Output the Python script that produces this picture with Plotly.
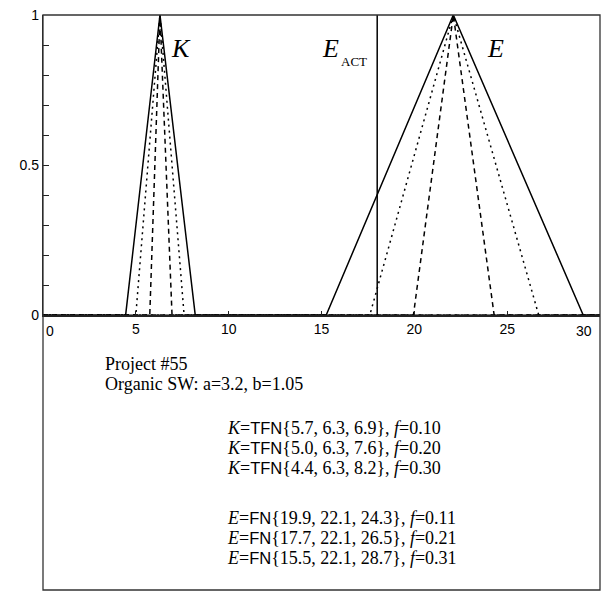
import plotly.graph_objects as go

# ---- data ----
x_axis_range = [0, 30]
k_left = [5.75, 5.0, 4.45]
k_peak = [6.3, 6.3, 6.3]
k_right = [6.95, 7.6, 8.2]
e_left = [19.95, 17.6, 15.25]
e_peak = [22.1, 22.1, 22.1]
e_right = [24.3, 26.7, 29.1]
e_act = 18.0
dash_styles = ["5px,4px", "2px,4px", "solid"]

x_tick_vals = [5, 10, 15, 20, 25]
x_tick_text = ["5", "10", "15", "20", "25"]
y_tick_vals = [0, 0.5, 1]
y_tick_text = ["0", "0.5", "1"]

k_text = [
    ("5.7, 6.3, 6.9", "0.10"),
    ("5.0, 6.3, 7.6", "0.20"),
    ("4.4, 6.3, 8.2", "0.30"),
]
e_text = [
    ("19.9, 22.1, 24.3", "0.11"),
    ("17.7, 22.1, 26.5", "0.21"),
    ("15.5, 22.1, 28.7", "0.31"),
]

SERIF = "Liberation Serif, Times New Roman, serif"
SANS = "Liberation Sans, Arial, sans-serif"

fig = go.Figure()


def tri(a, m, b):
    return [x_axis_range[0], a, m, b, x_axis_range[1]], [0, 0, 1, 0, 0]


for i in range(3):
    xs, ys = tri(k_left[i], k_peak[i], k_right[i])
    fig.add_trace(go.Scatter(x=xs, y=ys, mode="lines",
                             line=dict(color="black", width=1.5, dash=dash_styles[i]),
                             showlegend=False, hoverinfo="skip"))
    xs, ys = tri(e_left[i], e_peak[i], e_right[i])
    fig.add_trace(go.Scatter(x=xs, y=ys, mode="lines",
                             line=dict(color="black", width=1.5, dash=dash_styles[i]),
                             showlegend=False, hoverinfo="skip"))

fig.add_trace(go.Scatter(x=[e_act, e_act], y=[0, 1], mode="lines",
                         line=dict(color="black", width=1.5),
                         showlegend=False, hoverinfo="skip"))

W, H = 615, 605
ML, MR, MT, MB = 43, 15, 10, 7
PW, PH = W - ML - MR, H - MT - MB
axis_px = 317
y_dom_bottom = (H - MB - axis_px) / PH


def px(x):
    return (x - ML) / PW


def py(y):
    return (H - MB - y) / PH


fig.update_layout(
    width=W, height=H,
    margin=dict(l=ML, r=MR, t=MT, b=MB),
    paper_bgcolor="white", plot_bgcolor="white",
    xaxis=dict(range=x_axis_range, tickvals=x_tick_vals, ticktext=x_tick_text,
               ticks="inside", ticklen=4, tickcolor="#222",
               showline=True, linecolor="#222", linewidth=2,
               showgrid=False, zeroline=False,
               tickfont=dict(family=SANS, size=14, color="black")),
    yaxis=dict(range=[0, 1], domain=[y_dom_bottom, 1],
               tickvals=y_tick_vals, ticktext=y_tick_text,
               ticks="inside", ticklen=6, tickcolor="#222",
               minor=dict(dtick=0.1, ticks="inside", ticklen=6, tickcolor="#222"),
               showline=True, linecolor="#222", linewidth=1.3,
               showgrid=False, zeroline=False,
               tickfont=dict(family=SANS, size=14, color="black")),
    shapes=[dict(type="rect", xref="paper", yref="paper", x0=0, y0=0, x1=1, y1=1,
                 line=dict(color="#333", width=1.3))],
)

ann = []
# end tick labels shifted inward
ann.append(dict(x=0, y=0, xref="x", yref="y", text="0", showarrow=False,
                xanchor="left", yanchor="top", xshift=1, yshift=-6,
                font=dict(family=SANS, size=14, color="black")))
ann.append(dict(x=30, y=0, xref="x", yref="y", text="30", showarrow=False,
                xanchor="right", yanchor="top", xshift=-6, yshift=-6,
                font=dict(family=SANS, size=14, color="black")))

# curve labels
ann.append(dict(x=7.45, y=0.888, xref="x", yref="y", text="<i>K</i>", showarrow=False,
                xanchor="center", yanchor="middle",
                font=dict(family=SERIF, size=26, color="black")))
ann.append(dict(x=24.35, y=0.888, xref="x", yref="y", text="<i>E</i>", showarrow=False,
                xanchor="center", yanchor="middle",
                font=dict(family=SERIF, size=26, color="black")))
ann.append(dict(x=e_act, y=0.888, xref="x", yref="y", text="<i>E</i>",
                showarrow=False, xanchor="right", yanchor="middle", xshift=-36,
                font=dict(family=SERIF, size=26, color="black")))
ann.append(dict(x=e_act, y=0.845, xref="x", yref="y", text="ACT",
                showarrow=False, xanchor="left", yanchor="middle", xshift=-38,
                font=dict(family=SERIF, size=13, color="black")))

# text box (multi-line blocks; base font sets line pitch, spans set glyph size)
BIG = "<span style='font-size:18px'>{}</span>"
head = "<br>".join([BIG.format("Project #55"),
                    BIG.format("Organic SW: a=3.2, b=1.05")])
ann.append(dict(x=px(103), y=py(377), xref="paper", yref="paper", text=head,
                showarrow=False, xanchor="left", yanchor="middle", align="left",
                font=dict(family=SERIF, size=15.4, color="black")))

tfn = "<span style='font-family:Liberation Sans, Arial, sans-serif;font-size:16.5px'>{}</span>"
k_lines = [BIG.format("<i>K</i>=") + tfn.format("TFN") +
           BIG.format("{" + v + "}, <i>f</i>=" + f) for v, f in k_text]
e_lines = [BIG.format("<i>E</i>=") + tfn.format("FN") +
           BIG.format("{" + v + "}, <i>f</i>=" + f) for v, f in e_text]

ann.append(dict(x=px(225), y=py(453), xref="paper", yref="paper", text="<br>".join(k_lines),
                showarrow=False, xanchor="left", yanchor="middle", align="left",
                font=dict(family=SERIF, size=15.4, color="black")))
ann.append(dict(x=px(225), y=py(545), xref="paper", yref="paper", text="<br>".join(e_lines),
                showarrow=False, xanchor="left", yanchor="middle", align="left",
                font=dict(family=SERIF, size=15.4, color="black")))

fig.update_layout(annotations=ann)
fig.write_html("out.html")
